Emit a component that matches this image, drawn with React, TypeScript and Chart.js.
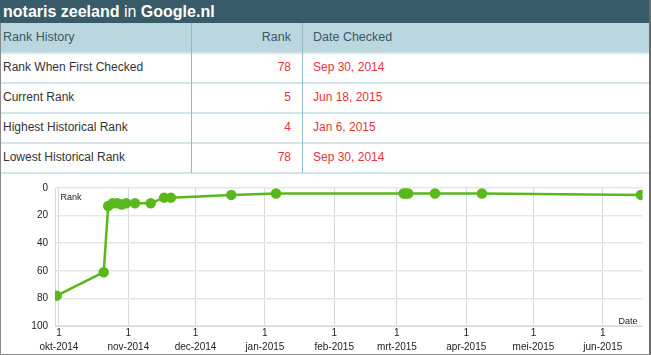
import React, { useEffect, useRef } from 'react';
import { Chart, registerables } from 'chart.js';

Chart.register(...registerables);

// ---- data ----
const checkDates = [
  '2014-09-30', '2014-10-21', '2014-10-23', '2014-10-25', '2014-10-27', '2014-10-29',
  '2014-10-31', '2014-11-04', '2014-11-11', '2014-11-17', '2014-11-20', '2014-12-17',
  '2015-01-06', '2015-03-04', '2015-03-05', '2015-03-06', '2015-03-18', '2015-04-08',
  '2015-06-18',
];
const ranks = [78, 61, 13, 11, 11, 12, 11, 11, 11, 7, 7, 5, 4, 4, 4, 4, 4, 4, 5];

const monthStarts = [
  '2014-10-01', '2014-11-01', '2014-12-01', '2015-01-01', '2015-02-01',
  '2015-03-01', '2015-04-01', '2015-05-01', '2015-06-01',
];
const monthLabels = [
  'okt-2014', 'nov-2014', 'dec-2014', 'jan-2015', 'feb-2015',
  'mrt-2015', 'apr-2015', 'mei-2015', 'jun-2015',
];
const yTickValues = [0, 20, 40, 60, 80, 100];

const tableLabels = ['Rank When First Checked', 'Current Rank', 'Highest Historical Rank', 'Lowest Historical Rank'];
const tableRanks = ['78', '5', '4', '78'];
const tableDates = ['Sep 30, 2014', 'Jun 18, 2015', 'Jan 6, 2015', 'Sep 30, 2014'];

const ORIGIN = Date.UTC(2014, 9, 1);
function dayOf(s: string): number {
  const [y, m, d] = s.split('-').map(Number);
  return (Date.UTC(y, m - 1, d) - ORIGIN) / 86400000;
}

const FONT = '"Liberation Sans", Arial, sans-serif';
const GREEN = '#58b81c';

const axisTitles = {
  id: 'axisTitles',
  afterDraw(chart: any) {
    const { ctx, chartArea } = chart;
    ctx.save();
    ctx.font = '9px ' + FONT;
    ctx.fillStyle = '#222';
    ctx.textBaseline = 'middle';
    ctx.textAlign = 'left';
    ctx.fillText('Rank', chartArea.left + 5.5, chartArea.top + 10);
    ctx.textAlign = 'right';
    ctx.fillText('Date', chartArea.right - 5, chartArea.bottom - 4.5);
    ctx.restore();
  },
};

function RankChart() {
  const ref = useRef<HTMLCanvasElement | null>(null);
  useEffect(() => {
    if (!ref.current) return;
    const monthDays = monthStarts.map(dayOf);
    const chart = new Chart(ref.current, {
      type: 'line',
      data: {
        datasets: [
          {
            data: checkDates.map((d, i) => ({ x: dayOf(d), y: ranks[i] })),
            borderColor: GREEN,
            backgroundColor: GREEN,
            pointBackgroundColor: GREEN,
            pointBorderColor: GREEN,
            borderWidth: 2.5,
            pointRadius: 4,
            pointHoverRadius: 4,
            tension: 0,
          },
        ],
      },
      options: {
        responsive: false,
        animation: false,
        events: [],
        layout: { padding: { left: 0, right: 2, top: 14, bottom: 0 } },
        plugins: { legend: { display: false }, tooltip: { enabled: false } },
        scales: {
          x: {
            type: 'linear',
            min: -1.77,
            max: 260.74,
            afterBuildTicks: (s: any) => {
              s.ticks = monthDays.map((v) => ({ value: v }));
            },
            afterFit: (s: any) => {
              s.height = 28;
            },
            ticks: {
              callback: (_v: any, i: number) => ['1', monthLabels[i]],
              font: { size: 10, family: FONT, lineHeight: 1.4 },
              color: '#222',
              padding: 0,
              maxRotation: 0,
              autoSkip: false,
            },
            grid: { color: '#d9d9d9', drawTicks: false, lineWidth: 1 },
            border: { display: true, color: '#d9d9d9' },
          },
          y: {
            type: 'linear',
            reverse: true,
            min: 0,
            max: 100,
            afterBuildTicks: (s: any) => {
              s.ticks = yTickValues.map((v) => ({ value: v }));
            },
            afterFit: (s: any) => {
              s.width = 55;
            },
            ticks: {
              font: { size: 10, family: FONT },
              color: '#222',
              padding: 7,
            },
            grid: { color: '#e6e6e6', drawTicks: false, lineWidth: 1.5 },
            border: { display: true, color: '#d9d9d9' },
          },
        },
      },
      plugins: [axisTitles],
    } as any);
    return () => chart.destroy();
  }, []);
  return (
    <canvas
      ref={ref}
      width={649}
      height={180}
      style={{ position: 'absolute', left: 0, top: 174, width: 649, height: 180, display: 'block' }}
    />
  );
}

export default function App() {
  useEffect(() => {
    document.body.style.margin = '0';
  }, []);

  const rowTop = (i: number) => 53 + 30 * i;

  return (
    <div
      style={{
        position: 'relative',
        width: 651,
        height: 355,
        background: '#fff',
        overflow: 'hidden',
        fontFamily: FONT,
      }}
    >
      {/* title bar */}
      <div
        style={{
          position: 'absolute', left: 0, top: 0, width: 651, height: 23,
          background: '#375b68', color: '#fff', fontSize: 16, lineHeight: '23px',
          paddingLeft: 3, boxSizing: 'border-box', whiteSpace: 'nowrap',
        }}
      >
        <b>notaris zeeland</b> in <b>Google.nl</b>
      </div>

      {/* table header */}
      <div style={{ position: 'absolute', left: 0, top: 23, width: 651, height: 29, background: '#bad7e0' }} />
      <div style={{ position: 'absolute', left: 3, top: 23, height: 29, lineHeight: '29px', fontSize: 12.5, color: '#3b5866' }}>
        Rank History
      </div>
      <div style={{ position: 'absolute', left: 191, width: 100, top: 23, height: 29, lineHeight: '29px', fontSize: 12.5, color: '#3b5866', textAlign: 'right' }}>
        Rank
      </div>
      <div style={{ position: 'absolute', left: 313, top: 23, height: 29, lineHeight: '29px', fontSize: 12.5, color: '#3b5866' }}>
        Date Checked
      </div>

      {/* rows */}
      {tableLabels.map((label, i) => (
        <React.Fragment key={label}>
          <div style={{ position: 'absolute', left: 3, top: rowTop(i), height: 29, lineHeight: '29px', fontSize: 12, color: '#333', whiteSpace: 'nowrap' }}>
            {label}
          </div>
          <div style={{ position: 'absolute', left: 191, width: 100, top: rowTop(i), height: 29, lineHeight: '29px', fontSize: 12, color: '#e5333b', textAlign: 'right' }}>
            {tableRanks[i]}
          </div>
          <div style={{ position: 'absolute', left: 313, top: rowTop(i), height: 29, lineHeight: '29px', fontSize: 12, color: '#e5333b', whiteSpace: 'nowrap' }}>
            {tableDates[i]}
          </div>
        </React.Fragment>
      ))}

      {/* row separators */}
      {[52, 82, 112, 142, 172].map((y) => (
        <div key={y} style={{ position: 'absolute', left: 0, top: y, width: 651, height: 2, background: '#d3e5eb' }} />
      ))}

      {/* column dividers */}
      {[191, 302].map((x) => (
        <div key={x} style={{ position: 'absolute', left: x, top: 23, width: 1, height: 150, background: '#94bac5' }} />
      ))}

      <RankChart />

      {/* outer borders */}
      <div style={{ position: 'absolute', left: 0, top: 23, width: 1, height: 332, background: '#8a8a8a' }} />
      <div style={{ position: 'absolute', left: 649, top: 0, width: 2, height: 355, background: '#6a6a6a' }} />
      <div style={{ position: 'absolute', left: 0, top: 354, width: 651, height: 1, background: '#8a8a8a' }} />
    </div>
  );
}
